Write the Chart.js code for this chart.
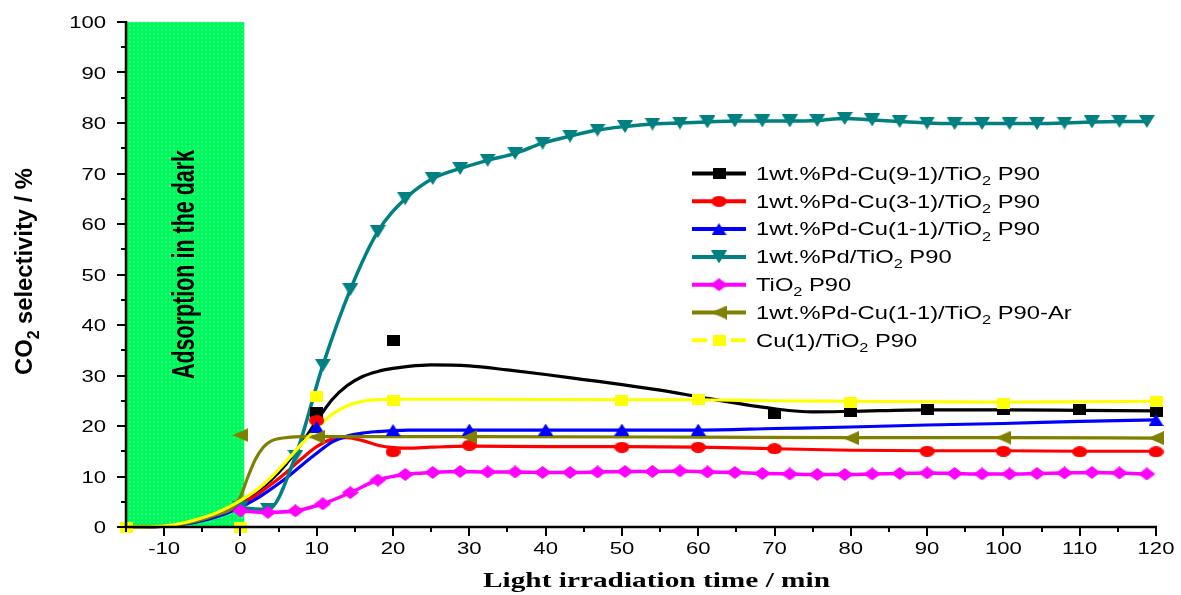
<!DOCTYPE html>
<html>
<head>
<meta charset="utf-8">
<script src="https://cdn.jsdelivr.net/npm/chart.js@4.4.1/dist/chart.umd.min.js"></script>
<style>
  html, body { margin: 0; padding: 0; background: #fff; }
  #wrap { width: 1181px; height: 595px; }
</style>
</head>
<body>
<div id="wrap"><canvas id="selectivity" width="1181" height="595"></canvas></div>
<script>
// axis ticks
const xTicks = [-10, 0, 10, 20, 30, 40, 50, 60, 70, 80, 90, 100, 110, 120];
const yTicks = [0, 10, 20, 30, 40, 50, 60, 70, 80, 90, 100];

// dark adsorption period (min)
const darkStart = -15;
const darkEnd = 0.5;
const darkLabel = 'Adsorption in the dark';

// 1wt.%Pd-Cu(9-1)/TiO2 P90
const pdCu91X = [10, 20, 70, 80, 90, 100, 110, 120];
const pdCu91Y = [22.7, 36.9, 22.4, 22.9, 23.2, 23.2, 23.2, 22.9];
const pdCu91FitX = [-15, -12, -9, -6, -3, 0, 2, 4, 6, 8, 10, 12, 14, 16, 18, 20, 22, 25, 30, 35, 40, 45, 50, 55, 60, 65, 70, 75, 80, 90, 100, 110, 120];
const pdCu91FitY = [0, 0.05, 0.3, 1.2, 2.6, 4.8, 6.8, 9.3, 12.5, 16.5, 21, 25.2, 28, 29.8, 30.8, 31.4, 31.8, 32.1, 31.9, 31.1, 30.2, 29.2, 28.2, 27.1, 25.8, 24.5, 23.4, 22.8, 22.9, 23.2, 23.2, 23.1, 23.0];

// 1wt.%Pd-Cu(3-1)/TiO2 P90
const pdCu31X = [10, 20, 30, 50, 60, 70, 90, 100, 110, 120];
const pdCu31Y = [21.1, 14.9, 16.2, 15.8, 15.8, 15.5, 15.0, 15.0, 14.9, 14.9];
const pdCu31FitX = [-15, -12, -9, -6, -3, 0, 2, 4, 6, 8, 10, 12, 14, 16, 18, 20, 22, 25, 30, 40, 50, 60, 70, 80, 90, 100, 110, 120];
const pdCu31FitY = [0, 0.05, 0.3, 1.1, 2.4, 4.4, 6.2, 8.4, 10.8, 13.5, 15.9, 17.4, 17.7, 17.1, 16.2, 15.7, 15.6, 15.8, 16.0, 15.9, 15.9, 15.8, 15.5, 15.2, 15.1, 15.1, 15.0, 15.0];

// 1wt.%Pd-Cu(1-1)/TiO2 P90
const pdCu11X = [10, 20, 30, 40, 50, 60, 120];
const pdCu11Y = [19.8, 19.2, 19.3, 19.3, 19.3, 19.3, 21.2];
const pdCu11FitX = [-15, -12, -9, -6, -3, 0, 2, 4, 6, 8, 10, 12, 14, 16, 18, 20, 22, 25, 40, 60, 70, 80, 90, 100, 110, 120];
const pdCu11FitY = [0, 0.03, 0.25, 0.9, 2.1, 3.9, 5.5, 7.5, 9.7, 12.2, 14.6, 16.8, 18.0, 18.6, 18.9, 19.1, 19.2, 19.2, 19.2, 19.2, 19.5, 19.8, 20.2, 20.5, 20.9, 21.2];

// 1wt.%Pd/TiO2 P90 and TiO2 P90 (sampled every 3.6 min)
const pdX = [0, 3.6, 7.2, 10.8, 14.4, 18, 21.6, 25.2, 28.8, 32.4, 36, 39.6, 43.2, 46.8, 50.4, 54, 57.6, 61.2, 64.8, 68.4, 72, 75.6, 79.2, 82.8, 86.4, 90, 93.6, 97.2, 100.8, 104.4, 108, 111.6, 115.2, 118.8];
const pdY = [3.8, 3.5, 14, 32, 47, 58.5, 65, 69, 71, 72.6, 74, 76, 77.4, 78.6, 79.3, 79.8, 80.0, 80.2, 80.4, 80.4, 80.4, 80.5, 80.9, 80.6, 80.3, 80.0, 79.9, 79.9, 79.9, 79.9, 80.0, 80.2, 80.3, 80.3];
const tio2Y = [3.2, 2.9, 3.2, 4.6, 6.8, 9.3, 10.4, 10.8, 11.0, 10.9, 10.9, 10.8, 10.8, 10.9, 11.0, 11.0, 11.1, 10.9, 10.8, 10.6, 10.5, 10.4, 10.4, 10.5, 10.6, 10.7, 10.6, 10.5, 10.5, 10.6, 10.7, 10.8, 10.7, 10.5];

// 1wt.%Pd-Cu(1-1)/TiO2 P90-Ar
const arX = [0, 10, 30, 80, 100, 120];
const arY = [18.2, 17.8, 17.8, 17.6, 17.7, 17.6];
const arFitX = [-15, -12, -9, -6, -3, -1, 0, 1, 2, 3, 4, 5, 6, 8, 10, 20, 30, 60, 80, 100, 120];
const arFitY = [0, 0.03, 0.3, 1.1, 2.5, 3.8, 6, 10, 13.5, 15.8, 17, 17.5, 17.7, 17.9, 17.9, 17.9, 17.9, 17.8, 17.7, 17.7, 17.6];

// Cu(1)/TiO2 P90
const cuX = [-15, 0, 10, 20, 50, 60, 80, 100, 120];
const cuY = [0, 0, 25.9, 25.1, 25.1, 25.3, 24.6, 24.5, 24.9];
const cuFitX = [-15, -12, -9, -6, -3, 0, 2, 4, 6, 8, 10, 12, 14, 16, 18, 20, 25, 30, 50, 60, 70, 80, 90, 100, 110, 120];
const cuFitY = [0, 0.05, 0.4, 1.4, 2.9, 5.2, 7.2, 9.8, 13, 16.4, 19.6, 22.3, 24, 24.9, 25.2, 25.3, 25.3, 25.3, 25.2, 25.2, 25.0, 24.9, 24.8, 24.7, 24.8, 24.9];

// legend text, [text, subscript]
const seriesNames = [
  [['1wt.%Pd-Cu(9-1)/TiO', 0], ['2', 1], [' P90', 0]],
  [['1wt.%Pd-Cu(3-1)/TiO', 0], ['2', 1], [' P90', 0]],
  [['1wt.%Pd-Cu(1-1)/TiO', 0], ['2', 1], [' P90', 0]],
  [['1wt.%Pd/TiO', 0], ['2', 1], [' P90', 0]],
  [['TiO', 0], ['2', 1], [' P90', 0]],
  [['1wt.%Pd-Cu(1-1)/TiO', 0], ['2', 1], [' P90-Ar', 0]],
  [['Cu(1)/TiO', 0], ['2', 1], [' P90', 0]]
];
const yTitle = [['CO', 0], ['2', 1], [' selectivity / %', 0]];
const xTitle = [['Light irradiation time / min', 0]];

const colors = ['#000000', '#ff0000', '#0000ff', '#008080', '#ff00ff', '#808000', '#ffff00'];

// marker images (the figure is a little wider than tall)
function makeMarker(shape, w, h, color) {
  const c = document.createElement('canvas');
  c.width = w; c.height = h;
  const g = c.getContext('2d');
  g.fillStyle = color;
  g.beginPath();
  if (shape === 'rect') {
    g.rect(0, 0, w, h);
  } else if (shape === 'circle') {
    g.ellipse(w / 2, h / 2, w / 2, h / 2, 0, 0, Math.PI * 2);
  } else if (shape === 'up') {
    g.moveTo(w / 2, 0); g.lineTo(w, h); g.lineTo(0, h);
  } else if (shape === 'down') {
    g.moveTo(0, 0); g.lineTo(w, 0); g.lineTo(w / 2, h);
  } else if (shape === 'left') {
    g.moveTo(0, h / 2); g.lineTo(w, 0); g.lineTo(w, h);
  } else if (shape === 'diamond') {
    g.moveTo(w / 2, 0); g.lineTo(w, h / 2); g.lineTo(w / 2, h); g.lineTo(0, h / 2);
  }
  g.closePath();
  g.fill();
  return c;
}

const markers = [
  makeMarker('rect', 13, 11, colors[0]),
  makeMarker('circle', 15, 11, colors[1]),
  makeMarker('up', 15, 12, colors[2]),
  makeMarker('down', 16, 13, colors[3]),
  makeMarker('diamond', 17, 13, colors[4]),
  makeMarker('left', 16, 14, colors[5]),
  makeMarker('rect', 13, 11, colors[6])
];

function pts(xs, ys) {
  return xs.map((v, i) => ({ x: v, y: ys[i] }));
}

function fitLine(xs, ys, color, order) {
  return {
    data: pts(xs, ys), showLine: true, borderColor: color, borderWidth: 3.2,
    pointRadius: 0, cubicInterpolationMode: 'monotone', clip: false, order: order
  };
}

function markerSet(xs, ys, img, order) {
  return {
    data: pts(xs, ys), showLine: false, pointStyle: img, pointRadius: 7,
    clip: false, order: order
  };
}

// text with optional subscripts, horizontally scaled
function measureRich(ctx, parts, size, family, weight) {
  let w = 0;
  parts.forEach(p => {
    ctx.font = `${weight} ${p[1] ? Math.round(size * 0.68) : size}px ${family}`;
    w += ctx.measureText(p[0]).width;
  });
  return w;
}

function drawRich(ctx, parts, o) {
  const w = measureRich(ctx, parts, o.size, o.family, o.weight);
  ctx.save();
  ctx.translate(o.x, o.y);
  if (o.rot) ctx.rotate(o.rot);
  ctx.scale(o.sx || 1, 1);
  ctx.fillStyle = '#000';
  ctx.textAlign = 'left';
  ctx.textBaseline = 'alphabetic';
  let cx = o.align === 'center' ? -w / 2 : (o.align === 'right' ? -w : 0);
  const base = o.size * 0.36;
  parts.forEach(p => {
    const sz = p[1] ? Math.round(o.size * 0.68) : o.size;
    ctx.font = `${o.weight} ${sz}px ${o.family}`;
    ctx.fillText(p[0], cx, base + (p[1] ? o.size * 0.3 : 0));
    cx += ctx.measureText(p[0]).width;
  });
  ctx.restore();
}

function makeGrid() {
  const c = document.createElement('canvas');
  c.width = 4; c.height = 4;
  const g = c.getContext('2d');
  g.fillStyle = '#00ff33';
  g.fillRect(0, 0, 4, 4);
  g.fillStyle = '#20f0f0';
  g.fillRect(1, 1, 2, 2);
  return c;
}

const SANS = 'Arial, "Liberation Sans", sans-serif';
const SERIF = '"Times New Roman", "Liberation Serif", serif';

// green box for the dark period, under the curves
const darkBox = {
  id: 'darkBox',
  beforeDatasetsDraw(chart) {
    const { ctx, scales: { x, y } } = chart;
    const x0 = x.getPixelForValue(darkStart), x1 = x.getPixelForValue(darkEnd);
    const y0 = y.getPixelForValue(100), y1 = y.getPixelForValue(0);
    ctx.save();
    ctx.fillStyle = ctx.createPattern(makeGrid(), 'repeat');
    ctx.fillRect(x0, y0, x1 - x0, y1 - y0);
    const parts = [[darkLabel, 0]];
    const sx = 229 / measureRich(ctx, parts, 32, SANS, 'bold');
    drawRich(ctx, parts, { x: (x0 + x1) / 2 - 3, y: 264.5, size: 32, family: SANS, weight: 'bold', sx: sx, align: 'center', rot: -Math.PI / 2 });
    ctx.restore();
  }
};

// axes, ticks, titles and legend
const decorations = {
  id: 'decorations',
  afterDraw(chart) {
    const { ctx, chartArea: a, scales: { x, y } } = chart;
    ctx.save();
    ctx.strokeStyle = '#000';
    ctx.lineWidth = 2.5;
    ctx.beginPath();
    ctx.moveTo(a.left, a.top - 1);
    ctx.lineTo(a.left, a.bottom);
    ctx.lineTo(a.right + 1, a.bottom);
    ctx.stroke();

    ctx.lineWidth = 2;
    ctx.beginPath();
    for (let v = -15; v <= 120; v += 5) {
      const px = Math.round(x.getPixelForValue(v));
      const len = xTicks.includes(v) ? 9 : 5;
      ctx.moveTo(px, a.bottom);
      ctx.lineTo(px, a.bottom + len);
    }
    for (let v = 0; v <= 100; v += 5) {
      const py = Math.round(y.getPixelForValue(v));
      const len = yTicks.includes(v) ? 9 : 5;
      ctx.moveTo(a.left, py);
      ctx.lineTo(a.left - len, py);
    }
    ctx.stroke();

    xTicks.forEach(v => {
      drawRich(ctx, [[String(v), 0]], { x: x.getPixelForValue(v), y: 548, size: 17, family: SANS, weight: 'normal', sx: 1.3, align: 'center' });
    });
    yTicks.forEach(v => {
      drawRich(ctx, [[String(v), 0]], { x: 106, y: y.getPixelForValue(v), size: 17, family: SANS, weight: 'normal', sx: 1.3, align: 'right' });
    });

    const ysx = 207 / measureRich(ctx, yTitle, 24, SANS, 'bold');
    drawRich(ctx, yTitle, { x: 23, y: 271.5, size: 24, family: SANS, weight: 'bold', sx: ysx, align: 'center', rot: -Math.PI / 2 });
    const xsx = 347 / measureRich(ctx, xTitle, 21, SERIF, 'bold');
    drawRich(ctx, xTitle, { x: 656.5, y: 579, size: 21, family: SERIF, weight: 'bold', sx: xsx, align: 'center' });

    // legend
    const lsx = 284 / measureRich(ctx, seriesNames[0], 17.5, SANS, 'normal');
    seriesNames.forEach((name, i) => {
      const ly = 173.5 + i * 27.8;
      ctx.strokeStyle = colors[i];
      ctx.lineWidth = 4;
      ctx.beginPath();
      if (i === 6) {
        ctx.moveTo(692, ly); ctx.lineTo(707, ly);
        ctx.moveTo(731, ly); ctx.lineTo(746, ly);
      } else {
        ctx.moveTo(692, ly); ctx.lineTo(746, ly);
      }
      ctx.stroke();
      const m = markers[i];
      ctx.drawImage(m, 719 - m.width / 2, ly - m.height / 2);
      drawRich(ctx, name, { x: 756, y: ly, size: 17.5, family: SANS, weight: 'normal', sx: lsx, align: 'left' });
    });
    ctx.restore();
  }
};

const ctx = document.getElementById('selectivity').getContext('2d');
new Chart(ctx, {
  type: 'scatter',
  data: {
    datasets: [
      fitLine(pdCu91FitX, pdCu91FitY, colors[0], 16),
      fitLine(pdCu31FitX, pdCu31FitY, colors[1], 15),
      fitLine(pdCu11FitX, pdCu11FitY, colors[2], 14),
      {
        data: pts(pdX, pdY), showLine: true, borderColor: colors[3], borderWidth: 3.5,
        pointStyle: markers[3], pointRadius: 7, cubicInterpolationMode: 'monotone', clip: false, order: 13
      },
      {
        data: pts(pdX, tio2Y), showLine: true, borderColor: colors[4], borderWidth: 3.5,
        pointStyle: markers[4], pointRadius: 7, cubicInterpolationMode: 'monotone', clip: false, order: 12
      },
      fitLine(arFitX, arFitY, colors[5], 11),
      fitLine(cuFitX, cuFitY, colors[6], 10),
      markerSet(pdCu91X, pdCu91Y, markers[0], 6),
      markerSet(pdCu31X, pdCu31Y, markers[1], 5),
      markerSet(pdCu11X, pdCu11Y, markers[2], 4),
      markerSet(arX, arY, markers[5], 3),
      markerSet(cuX, cuY, markers[6], 2)
    ]
  },
  options: {
    responsive: false,
    animation: false,
    events: [],
    layout: { padding: { left: 0, right: 25, top: 22, bottom: 0 } },
    plugins: { legend: { display: false }, tooltip: { enabled: false } },
    scales: {
      x: {
        type: 'linear', min: -15, max: 120,
        grid: { display: false }, border: { display: false },
        ticks: { display: false },
        afterFit: s => { s.height = 68; }
      },
      y: {
        type: 'linear', min: 0, max: 100,
        grid: { display: false }, border: { display: false },
        ticks: { display: false },
        afterFit: s => { s.width = 126; }
      }
    }
  },
  plugins: [darkBox, decorations]
});
</script>
</body>
</html>
